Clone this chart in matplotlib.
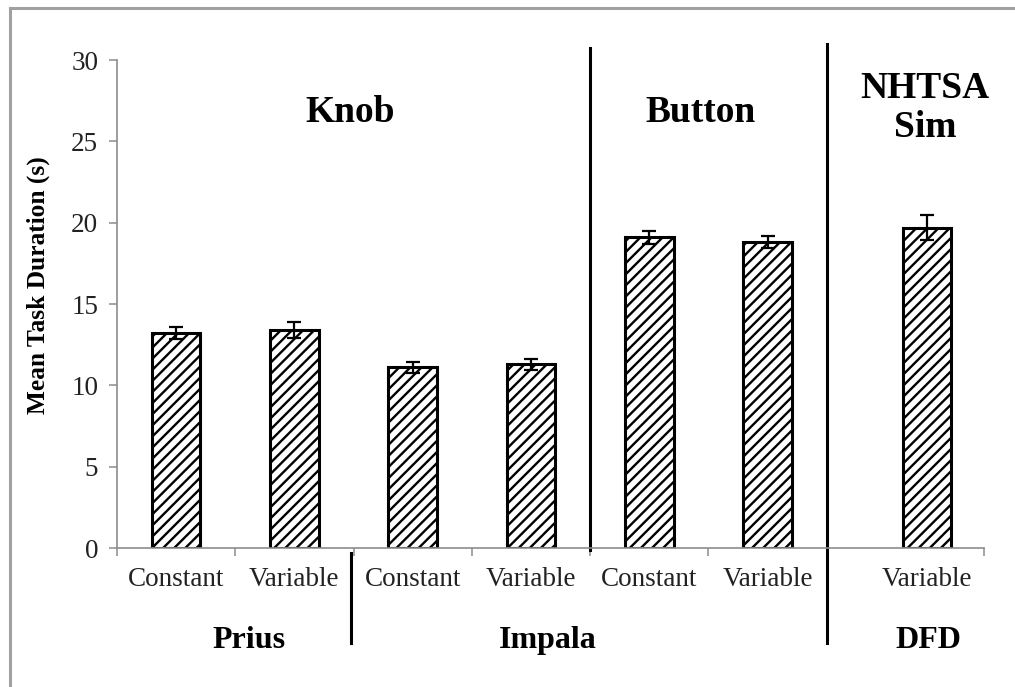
import matplotlib.pyplot as plt
from matplotlib.lines import Line2D

# data
categories = ["Constant", "Variable", "Constant", "Variable", "Constant", "Variable", "Variable"]
mean_duration = [13.2, 13.4, 11.1, 11.3, 19.1, 18.8, 19.7]
std_error = [0.38, 0.47, 0.32, 0.33, 0.40, 0.36, 0.75]
vehicles = ["Prius", "Impala", "DFD"]
interfaces = ["Knob", "Button", "NHTSA\nSim"]
y_ticks = [0, 5, 10, 15, 20, 25, 30]

# layout (category-slot units)
bar_x = [0.5, 1.5, 2.5, 3.5, 4.5, 5.5, 6.85]
slot_ticks = [0, 1, 2, 3, 4, 5, 6, 7.33]
vehicle_x = [1.12, 3.64, 6.86]
interface_x = [1.97, 4.93, 6.83]

plt.rcParams['font.family'] = ['Liberation Serif', 'DejaVu Serif']
plt.rcParams['hatch.linewidth'] = 1.7
plt.rcParams['hatch.color'] = 'black'

fig = plt.figure(figsize=(10.15, 6.87), dpi=100)
ax = fig.add_axes([117 / 1015, 1 - 548 / 687, 867 / 1015, 488 / 687])

ax.bar(bar_x, mean_duration, width=0.41, color='white', edgecolor='black',
       linewidth=2.2, hatch='///', zorder=2)
ax.errorbar(bar_x, mean_duration, yerr=std_error, fmt='none', ecolor='black',
            elinewidth=1.6, capsize=4.7, capthick=1.6, zorder=3)

ax.set_xlim(0, 7.33)
ax.set_ylim(0, 30)

gray = '#8c8c8c'
for side in ['top', 'right']:
    ax.spines[side].set_visible(False)
for side in ['left', 'bottom']:
    ax.spines[side].set_color(gray)
    ax.spines[side].set_linewidth(1.2)

ax.set_yticks(y_ticks)
ax.tick_params(axis='y', direction='out', length=5.5, width=1.1, color=gray,
               pad=8, labelsize=19.5, labelcolor='#222222')

ax.set_xticks(slot_ticks)
ax.set_xticklabels([])
ax.tick_params(axis='x', which='major', direction='out', length=6, width=1.1, color=gray)
ax.set_xticks(bar_x, minor=True)
ax.set_xticklabels(categories, minor=True)
ax.tick_params(axis='x', which='minor', length=0, pad=14, labelsize=19.5, labelcolor='#222222')

# separator lines
ax.add_line(Line2D([4, 4], [-0.15, 30.75], color='black', lw=2.2, clip_on=False))
ax.add_line(Line2D([6, 6], [-5.85, 31.0], color='black', lw=2.2, clip_on=False))
ax.add_line(Line2D([1.98, 1.98], [-0.3, -5.85], color='black', lw=2.2, clip_on=False))

for x, name in zip(interface_x, interfaces):
    y = 26.8 if '\n' not in name else 27.05
    ax.text(x, y, name, ha='center', va='center', fontsize=27, fontweight='bold',
            linespacing=1.15)

for x, name in zip(vehicle_x, vehicles):
    ax.text(x, -5.66, name, ha='center', va='center', fontsize=23, fontweight='bold',
            clip_on=False)

fig.text(38 / 1015, 1 - 285 / 687, "Mean Task Duration (s)", rotation=90,
         ha='center', va='center', fontsize=18.3, fontweight='bold')

# frame around the picture
fig.add_artist(Line2D([10 / 1015, 10 / 1015], [0, 1 - 8 / 687], color='#a0a0a0', lw=2.2,
                      transform=fig.transFigure))
fig.add_artist(Line2D([10 / 1015, 1], [1 - 8 / 687, 1 - 8 / 687], color='#a0a0a0', lw=2.2,
                      transform=fig.transFigure))

fig.savefig('out.png', dpi=100)
